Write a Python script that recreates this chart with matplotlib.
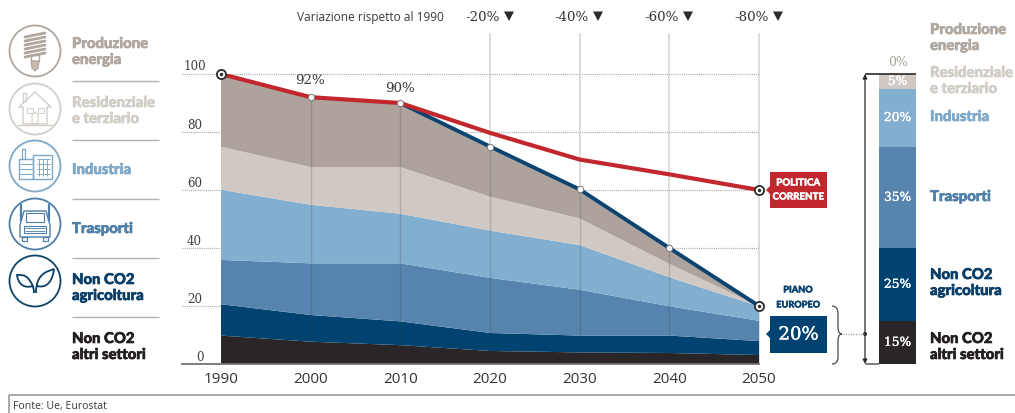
import matplotlib
matplotlib.use("Agg")
import matplotlib.pyplot as plt
import matplotlib.patheffects as pe
from matplotlib.patches import Circle, Rectangle, PathPatch, Polygon, FancyArrowPatch
from matplotlib.path import Path

W, H = 1015, 414

# Emissions by sector, index 1990 = 100
years = [1990, 2000, 2010, 2020, 2030, 2040, 2050]
altri_settori = [9.8, 7.7, 6.5, 4.5, 4.0, 3.8, 3.1]
agricoltura = [10.8, 9.2, 8.2, 6.2, 5.8, 6.0, 4.8]
trasporti = [15.3, 17.8, 20.0, 19.0, 15.8, 10.1, 7.0]
industria = [24.2, 20.2, 17.1, 16.3, 15.4, 10.0, 5.0]
residenziale = [14.8, 13.0, 16.1, 11.7, 9.2, 4.6, 0.1]
produzione = [25.1, 24.1, 22.1, 17.3, 10.0, 5.6, 0.0]

politica_corrente = [100, 92, 90, 79.7, 70.5, 65.4, 60]
piano_years = [2010, 2020, 2030, 2040, 2050]
piano_europeo = [90, 75, 60.2, 40, 20]

# Sector shares of the 2050 reduction, bottom to top
quota_values = [15, 25, 35, 20, 5]
quota_labels = ["15%", "25%", "35%", "20%", "5%"]

sector_colors = ["#2a2627", "#004371", "#5684ae", "#82aed0", "#d0c8c3", "#ada39c"]
RED = "#c1272d"
NAVY = "#0b4470"
SERIF = "DejaVu Serif"
SANS = "Open Sans"
HEAVY = "Lato"

fig = plt.figure(figsize=(W / 100, H / 100), dpi=100, facecolor="white")


def axes_px(x0, x1, y_top, y_bottom, **kw):
    return fig.add_axes([x0 / W, 1 - y_bottom / H, (x1 - x0) / W, (y_bottom - y_top) / H], **kw)


def thick(color, width=0.45):
    return [pe.withStroke(linewidth=width, foreground=color)]


# Main stacked area chart
ax = axes_px(221, 759, 75, 365)
ax.set_xlim(1990, 2050)
ax.set_ylim(0, 100)
ax.patch.set_alpha(0)
ax.axis("off")

for v in [20, 40, 60, 80, 100]:
    ax.plot([1985.7, 2050], [v, v], color="#a5a5a0", lw=0.9, ls=(0, (0.8, 0.9)), zorder=1, clip_on=False)
for yr in [2020, 2030, 2040, 2050]:
    ax.plot([yr, yr], [0, 113.8], color="#d6d3cd", lw=1.1, zorder=1, clip_on=False)

ax.stackplot(years, altri_settori, agricoltura, trasporti, industria, residenziale, produzione,
             colors=sector_colors, lw=0, zorder=2)

totals = [sum(s) for s in zip(altri_settori, agricoltura, trasporti, industria, residenziale, produzione)]
for yr, total in zip(years[1:-1], totals[1:-1]):
    ax.plot([yr, yr], [0, total], color="#3c3a38", alpha=0.2, lw=1.0, zorder=3)

ax.plot(piano_years, piano_europeo, color=NAVY, lw=2.8, zorder=4, solid_capstyle="round")
ax.plot(years, politica_corrente, color=RED, lw=3.0, zorder=5, solid_joinstyle="round")

ax.plot(years[1:3], politica_corrente[1:3], ls="none", marker="o", ms=4.6, mfc="white", mec="#777777", mew=0.7, zorder=6)
ax.plot(piano_years[1:4], piano_europeo[1:4], ls="none", marker="o", ms=4.6, mfc="white", mec="#777777", mew=0.7, zorder=6)
for x, y in [(1990, politica_corrente[0]), (2050, politica_corrente[-1]), (2050, piano_europeo[-1])]:
    ax.plot([x], [y], ls="none", marker="o", ms=6.6, mfc="white", mec="#2b2b2b", mew=1.3, zorder=7, clip_on=False)
    ax.plot([x], [y], ls="none", marker="o", ms=1.5, color="#2b2b2b", zorder=8, clip_on=False)

ax.plot([1985.7, 2050], [0, 0], color="#77736e", lw=1.3, zorder=6, clip_on=False)

# Right-hand column with the sector shares
bar = axes_px(879, 916, 75, 365)
bar.set_xlim(0, 1)
bar.set_ylim(0, 100)
bar.axis("off")
bar_colors = ["#2a2627", "#004371", "#5684ae", "#82aed0", "#d0c8c3"]
base = 0
for val, col, lab in zip(quota_values, bar_colors, quota_labels):
    bar.bar(0.5, val, width=1, bottom=base, color=col, lw=0)
    bar.text(0.5, base + val / 2, lab, color="white", ha="center", va="center",
             family=SERIF, fontsize=8.8, path_effects=thick("white", 0.25))
    base += val

# Pixel-space overlay for annotations and pictograms
ov = fig.add_axes([0, 0, 1, 1], facecolor="none")
ov.set_xlim(0, W)
ov.set_ylim(H, 0)
ov.axis("off")


def line(xs, ys, c, lw=1.0, **kw):
    ov.plot(xs, ys, color=c, lw=lw, solid_capstyle=kw.pop("cap", "butt"), **kw)


def poly(pts, c, lw=0.9, fill="none", closed=True):
    ov.add_patch(Polygon(pts, closed=closed, fc=fill, ec=c, lw=lw, joinstyle="round"))


def rect(x, y, w, h, c, lw=0.9, fill="none"):
    ov.add_patch(Rectangle((x, y), w, h, fc=fill, ec=c, lw=lw))


def curve(verts, codes, c, lw=1.0, fill="none"):
    ov.add_patch(PathPatch(Path(verts, codes), fc=fill, ec=c, lw=lw))


# y tick labels
for v, py in zip([100, 80, 60, 40, 20, 0], [67, 126, 184, 242, 300, 358]):
    ov.text(194.5 if v else 200, py, str(v), family=SERIF, fontsize=8.6, color="#3f3f3d", ha="center", va="center")

# x tick labels
for yr in years:
    x = 221 + (yr - 1990) * (759 - 221) / 60
    ov.text(x, 380, str(yr), family=SANS, fontsize=11, color="#333331", ha="center", va="center")

# Header row
ov.text(297, 18, "Variazione rispetto al 1990", family=SANS, fontsize=8.6, color="#3a3a38", ha="left", va="center")
for cx, lab in zip([490, 579, 669, 759], ["-20%", "-40%", "-60%", "-80%"]):
    ov.text(cx + 10, 17.5, lab, family=SERIF, fontsize=9.6, color="#333333", ha="right", va="center")
    ov.add_patch(Polygon([(cx + 14, 12.5), (cx + 24, 12.5), (cx + 19, 22)], fc="#2a2a2a", ec="none"))

ov.text(310.5, 80, "92%", family=SERIF, fontsize=9.6, color="#3a3a38", ha="center", va="center")
ov.text(400, 89, "90%", family=SERIF, fontsize=9.6, color="#3a3a38", ha="center", va="center")

# Callout boxes
ov.add_patch(Rectangle((770, 173), 57, 36, fc=RED, ec="none"))
ov.add_patch(Polygon([(770, 187), (770, 195), (766, 191)], fc=RED, ec="none"))
ov.text(798.5, 184, "POLITICA", family=HEAVY, weight="black", fontsize=7.0, color="white", ha="center", va="center",
        path_effects=thick("white", 0.3))
ov.text(798.5, 198, "CORRENTE", family=HEAVY, weight="black", fontsize=7.0, color="white", ha="center", va="center",
        path_effects=thick("white", 0.3))

ov.text(798, 291, "PIANO", family=HEAVY, weight="black", fontsize=6.6, color=NAVY, ha="center", va="center",
        path_effects=thick(NAVY, 0.3))
ov.text(798, 306, "EUROPEO", family=HEAVY, weight="black", fontsize=6.6, color=NAVY, ha="center", va="center",
        path_effects=thick(NAVY, 0.3))
ov.add_patch(Rectangle((770, 317), 57, 37, fc="#004371", ec="none"))
ov.add_patch(Polygon([(770, 331), (770, 339), (766, 335)], fc="#004371", ec="none"))
ov.text(798.5, 335.5, "20%", family=SERIF, fontsize=13, color="white", ha="center", va="center",
        path_effects=thick("white", 0.3))

# Brace joining the callout to the column
M, C, L = Path.MOVETO, Path.CURVE3, Path.LINETO
curve([(832, 307), (838, 307), (838, 315), (838, 328), (838, 335), (842, 335),
       (838, 335), (838, 342), (838, 358), (838, 365), (832, 365)],
      [M, C, C, L, C, C, C, C, L, C, C], "#4a4a4a", lw=0.9)
line([843, 864], [335, 335], "#8a8a8a", 0.9, ls=(0, (0.8, 1.2)))
ov.add_patch(Circle((865, 335), 2.0, fc="#222222", ec="none"))

# Span arrow, top cap and baseline of the column
line([865, 916], [75, 75], "#2a2a2a", 1.2)
line([865, 879], [365, 365], "#77736e", 1.3)
ov.add_patch(FancyArrowPatch((865, 365), (865, 75), arrowstyle="<|-|>", mutation_scale=6.5,
                             color="#2a2a2a", lw=0.9, shrinkA=0, shrinkB=0))
ov.text(898, 63, "0%", family=SERIF, fontsize=9, color="#a8a29c", ha="center", va="center")

# Left legend
COL_PROD, COL_RES, COL_IND, COL_TRA, COL_AGR, COL_ALT = "#b0a79f", "#d3cdc8", "#7fa8c8", "#4f7fa8", "#0b3f68", "#231f20"
legend_rows = [
    (COL_PROD, ["Produzione", "energia"], [45, 61]),
    (COL_RES, ["Residenziale", "e terziario"], [104, 120]),
    (COL_IND, ["Industria"], [171]),
    (COL_TRA, ["Trasporti"], [230]),
    (COL_AGR, ["Non CO2", "agricoltura"], [281, 297]),
    (COL_ALT, ["Non CO2", "altri settori"], [340, 356]),
]
for col, labels, ys in legend_rows:
    for t, y in zip(labels, ys):
        ov.text(72, y, t, family=HEAVY, weight="black", fontsize=10.7, color=col, ha="left", va="center",
                path_effects=thick(col))
for y in [82, 141, 200, 259, 318]:
    line([72, 159], [y, y], "#b5b2ad", 1.0)

# Right legend
right_rows = [
    (COL_PROD, ["Produzione", "energia"], [31, 47]),
    (COL_RES, ["Residenziale", "e terziario"], [74, 90]),
    (COL_IND, ["Industria"], [118]),
    (COL_TRA, ["Trasporti"], [198]),
    (COL_AGR, ["Non CO2", "agricoltura"], [276, 292]),
    (COL_ALT, ["Non CO2", "altri settori"], [340, 356]),
]
for col, labels, ys in right_rows:
    for t, y in zip(labels, ys):
        ov.text(930, y, t, family=HEAVY, weight="black", fontsize=10.7, color=col, ha="left", va="center",
                path_effects=thick(col))

# Pictogram rings
for (cy, col) in [(52, COL_PROD), (110, COL_RES), (167, COL_IND), (225, COL_TRA), (282, "#0f4468")]:
    ov.add_patch(Circle((35, cy), 25.5, fc="white", ec=col, lw=1.3))

# Light bulb
for i in range(6):
    y0 = 36 + i * 4.0
    ov.plot([25, 45], [y0 + 2, y0 - 2], color=COL_PROD, lw=2.0, solid_capstyle="round")
poly([(31, 56), (39, 56), (39, 62), (31, 62)], COL_PROD, lw=1.0)
ov.add_patch(Polygon([(31, 62), (39, 62), (38, 69), (35, 72), (32, 69)], fc="#c9b8ad", ec=COL_PROD, lw=0.9))

# House
poly([(19, 108), (35, 93), (51, 108), (47, 108), (47, 125), (23, 125), (23, 108)], COL_RES, lw=1.0)
rect(23, 94, 3, 8, COL_RES, lw=0.9)
rect(27, 109, 6, 5, COL_RES, lw=0.7)
rect(38, 109, 6, 5, COL_RES, lw=0.7)
poly([(32, 125), (32, 116), (35, 113), (38, 116), (38, 125)], COL_RES, lw=0.8)
line([17, 53], [126, 126], COL_RES, 1.0)

# Factory
rect(19, 160, 14, 20, COL_IND, lw=1.0)
rect(33, 156, 19, 24, COL_IND, lw=1.0)
rect(22, 150, 3, 10, COL_IND, lw=0.9)
for y in [165, 170, 175]:
    line([20, 32], [y, y], COL_IND, 0.7)
for x in [39, 43, 47]:
    line([x, x], [160, 177], COL_IND, 0.7)
for y in [160, 165, 170, 175]:
    line([37, 50], [y, y], COL_IND, 0.7)

# Truck
poly([(24, 212), (46, 212), (50, 226), (50, 238), (20, 238), (20, 226)], COL_TRA, lw=1.0)
rect(26, 214, 18, 9, COL_TRA, lw=0.8)
rect(24, 227, 22, 7, COL_TRA, lw=0.8)
for y in [229, 231.5]:
    line([25, 45], [y, y], COL_TRA, 0.6)
line([21, 21], [205, 222], COL_TRA, 1.6)
line([49, 49], [205, 222], COL_TRA, 1.6)
rect(22, 238, 5, 4, COL_TRA, lw=0.9)
rect(43, 238, 5, 4, COL_TRA, lw=0.9)

# Sprout
B = Path.CURVE4
curve([(34, 294), (34, 286), (30, 282), (30, 282), (26, 275), (20, 276), (17, 276),
       (18, 284), (23, 290), (33, 287)],
      [M, B, B, B, B, B, B, B, B, B], COL_AGR, lw=1.3)
curve([(36, 294), (36, 285), (38, 280), (42, 276), (46, 272), (52, 271), (54, 270),
       (53, 280), (48, 290), (37, 287)],
      [M, B, B, B, B, B, B, B, B, B], COL_AGR, lw=1.3)

# Source frame
line([9, 9], [414, 396], "#a8a8a8", 1.4)
line([9, 1015], [396, 396], "#a8a8a8", 1.4)
ov.text(13, 407, "Fonte: Ue, Eurostat", family=SANS, fontsize=7.6, color="#3a3a3a", ha="left", va="center")

fig.savefig("out.png", dpi=100)
